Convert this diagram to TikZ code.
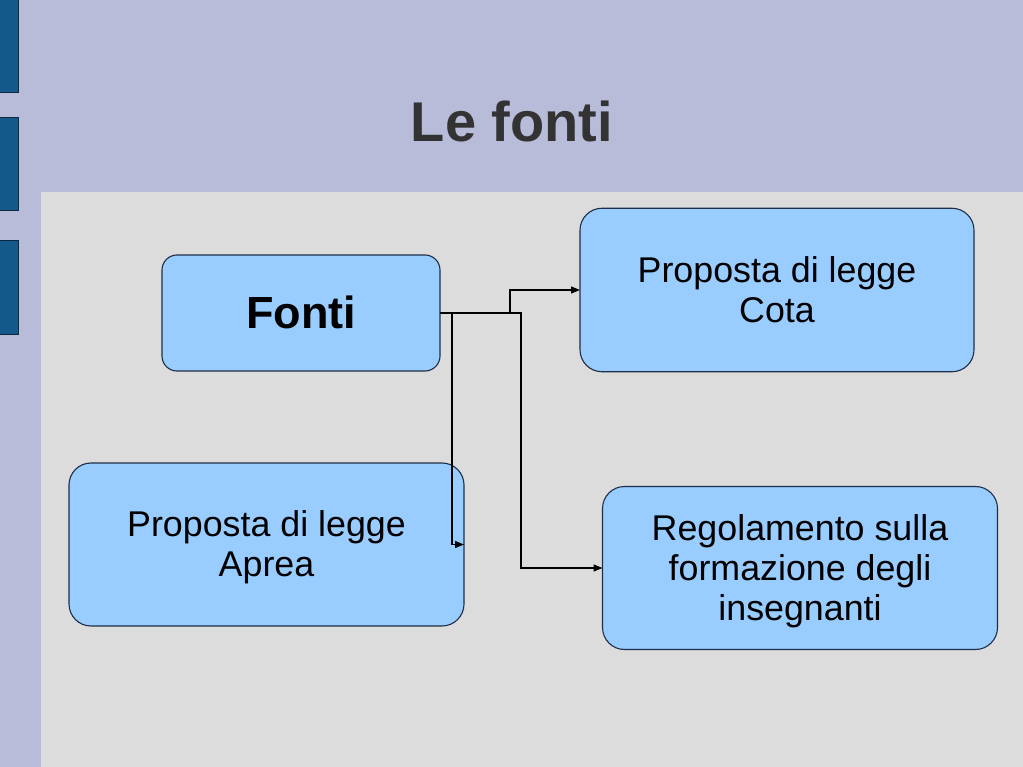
\documentclass[tikz,border=0pt]{standalone}
\usepackage{fontspec}
\setmainfont{Liberation Sans}
\usetikzlibrary{arrows.meta}
\definecolor{slidebg}{HTML}{B8BCD9}
\definecolor{panelbg}{HTML}{DCDCDC}
\definecolor{barfill}{HTML}{135A8A}
\definecolor{barline}{HTML}{0B2840}
\definecolor{boxfill}{HTML}{99CCFF}
\definecolor{boxline}{HTML}{1E2E48}
\definecolor{titlecol}{HTML}{333333}
\newcommand\lstrut{\rule[-0.212em]{0pt}{1.117em}}
\tikzset{
  box/.style={draw=boxline, line width=1.1pt, fill=boxfill, inner sep=0pt, outer sep=0pt,
    align=center, font=\fontsize{35.8}{40}\selectfont, rounded corners=22pt},
  conn/.style={draw=black, line width=1.3pt, -{Triangle[length=9pt,width=7pt]}},
  bar/.style={fill=barfill, draw=barline, line width=1pt}
}
\begin{document}
\begin{tikzpicture}[x=1pt,y=-1pt]
\useasboundingbox (0,0) rectangle (1023,767);
\fill[slidebg] (0,0) rectangle (1023,767);
\fill[panelbg] (41,192) rectangle (1023,767);
\draw[bar] (-2,-2) rectangle (18,93);
\draw[bar] (-2,118) rectangle (18,211);
\draw[bar] (-2,241) rectangle (18,335);
\node[anchor=base, text=titlecol, font=\fontsize{56}{64}\selectfont\bfseries] (title) at (512,141.7) {Le fonti};
\node[box, rounded corners=15pt, minimum width=278pt, minimum height=116pt,
  font=\fontsize{45}{50}\selectfont\bfseries] (fonti) at (301,313) {\lstrut Fonti};
\node[box, minimum width=394pt, minimum height=163.5pt] (cota) at (777,290)
  {\lstrut Proposta di legge\\\lstrut Cota};
\node[box, minimum width=395pt, minimum height=163pt] (aprea) at (266.5,544.5)
  {\lstrut Proposta di legge\\\lstrut Aprea};
\node[box, minimum width=395pt, minimum height=163pt] (rego) at (800,568)
  {\lstrut Regolamento sulla\\\lstrut formazione degli\\\lstrut insegnanti};
\draw[conn] (fonti.east) -- ++(70,0) |- (cota.west);
\draw[conn] (fonti.east) -- ++(12,0) |- (aprea.east);
\draw[conn] (fonti.east) -- ++(81,0) |- (rego.west);
\end{tikzpicture}
\end{document}
